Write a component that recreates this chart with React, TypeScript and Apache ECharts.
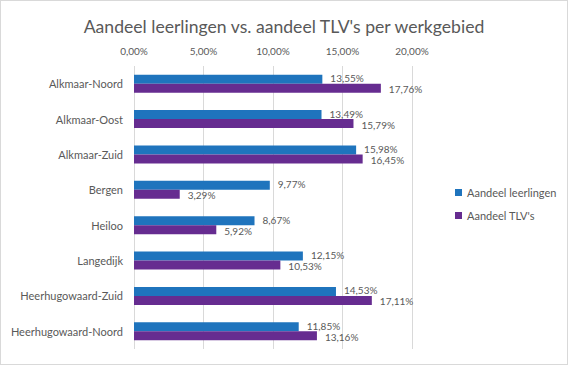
import React, { useEffect, useRef } from "react";
import * as echarts from "echarts";

const categories = [
  "Alkmaar-Noord",
  "Alkmaar-Oost",
  "Alkmaar-Zuid",
  "Bergen",
  "Heiloo",
  "Langedijk",
  "Heerhugowaard-Zuid",
  "Heerhugowaard-Noord",
];
const leerlingen = [13.55, 13.49, 15.98, 9.77, 8.67, 12.15, 14.53, 11.85];
const tlvs = [17.76, 15.79, 16.45, 3.29, 5.92, 10.53, 17.11, 13.16];
const seriesNames = ["Aandeel leerlingen", "Aandeel TLV's"];

const fmt = (v: number) => v.toFixed(2).replace(".", ",") + "%";
const FONT = "Lato";
const TXT = "#595959";

const labelStyle = (dy: number) => ({
  show: true,
  position: "right",
  distance: 8,
  offset: [0, dy],
  formatter: (p: any) => fmt(p.value),
  fontFamily: FONT,
  fontSize: 10,
  lineHeight: 9,
  color: TXT,
});

export default function App() {
  const ref = useRef<HTMLDivElement>(null);
  useEffect(() => {
    document.body.style.margin = "0";
    const chart = echarts.init(ref.current!, null, { renderer: "svg" });
    chart.setOption({
      animation: false,
      backgroundColor: "#ffffff",
      title: {
        text: "Aandeel leerlingen vs. aandeel TLV's per werkgebied",
        left: "center",
        top: 11,
        textStyle: { fontFamily: FONT, fontSize: 17.6, fontWeight: "normal", color: TXT },
      },
      legend: {
        orient: "vertical",
        left: 449,
        top: 181,
        itemWidth: 7,
        itemHeight: 7,
        itemGap: 12,
        icon: "rect",
        textStyle: { fontFamily: FONT, fontSize: 11, color: TXT },
        data: seriesNames,
      },
      grid: { left: 133, right: 155, top: 65, bottom: 15 },
      xAxis: {
        type: "value",
        position: "top",
        min: 0,
        max: 20,
        interval: 5,
        axisLine: { show: false },
        axisTick: { show: false },
        splitLine: { lineStyle: { color: "#d9d9d9", width: 1 } },
        axisLabel: {
          formatter: (v: number) => fmt(v),
          fontFamily: FONT,
          fontSize: 10,
          color: TXT,
          margin: 10,
        },
      },
      yAxis: {
        type: "category",
        inverse: true,
        data: categories,
        axisLine: { show: false },
        axisTick: { show: false },
        axisLabel: { fontFamily: FONT, fontSize: 11, color: TXT, margin: 11 },
      },
      series: [
        {
          name: seriesNames[0],
          type: "bar",
          data: leerlingen,
          barWidth: 9,
          barGap: "0%",
          itemStyle: { color: "#1f74bd" },
          label: labelStyle(-1),
        },
        {
          name: seriesNames[1],
          type: "bar",
          data: tlvs,
          barWidth: 9,
          itemStyle: { color: "#662c90" },
          label: labelStyle(1),
        },
      ],
    });
    return () => chart.dispose();
  }, []);
  return (
    <div
      ref={ref}
      style={{
        position: "absolute",
        left: 0,
        top: 0,
        width: 568,
        height: 365,
        boxSizing: "border-box",
        border: "1px solid #d9d9d9",
      }}
    />
  );
}
